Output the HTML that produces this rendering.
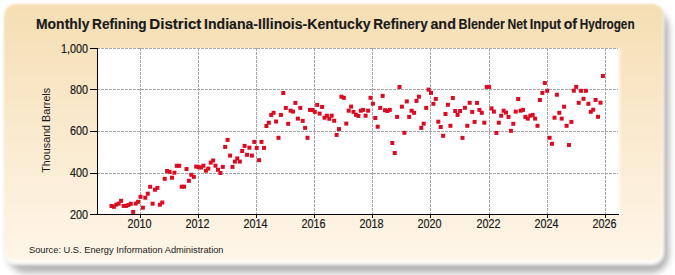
<!DOCTYPE html>
<html><head><meta charset="utf-8">
<style>
html,body{margin:0;padding:0;background:#fff;width:675px;height:275px;overflow:hidden}
#shadow{position:absolute;left:7.5px;top:10px;width:661px;height:263px;border-radius:18px;background:rgba(0,0,0,0.29);filter:blur(3px)}
#panel{position:absolute;left:3.5px;top:3.5px;width:660px;height:258.5px;border-radius:12px;
background:linear-gradient(to bottom,#F5DEB3 0%,#FAEACF 50%,#FFF6E9 100%);
box-shadow:0 2.5px 2px 0 rgba(255,255,255,0.9), inset -1px -2px 1px rgba(255,255,255,0.75);filter:blur(0.8px)}
svg{position:absolute;left:0;top:0}
text{font-family:"Liberation Sans",sans-serif;fill:#1a1a1a}
.ax text{stroke:#1a1a1a;stroke-width:0.2px}
</style></head>
<body>
<div id="shadow"></div><div id="panel"></div>
<svg width="675" height="275" viewBox="0 0 675 275">
<defs><linearGradient id="fade" x1="0" x2="1" y1="0" y2="0"><stop offset="0" stop-color="#fff" stop-opacity="1"/><stop offset="1" stop-color="#fff" stop-opacity="0"/></linearGradient></defs>
<rect x="97" y="48" width="520" height="166" fill="#fff"/>
<rect x="617" y="48" width="5" height="166" fill="url(#fade)"/>
<g stroke="#a6a6a6" stroke-width="1" stroke-dasharray="3,1" shape-rendering="crispEdges">
<line x1="97" y1="48.5" x2="618" y2="48.5"/>
<line x1="97" y1="89.5" x2="618" y2="89.5"/>
<line x1="97" y1="131.5" x2="618" y2="131.5"/>
<line x1="97" y1="173.5" x2="618" y2="173.5"/>
<line x1="140.5" y1="48" x2="140.5" y2="214"/>
<line x1="198.5" y1="48" x2="198.5" y2="214"/>
<line x1="256.5" y1="48" x2="256.5" y2="214"/>
<line x1="314.5" y1="48" x2="314.5" y2="214"/>
<line x1="372.5" y1="48" x2="372.5" y2="214"/>
<line x1="430.5" y1="48" x2="430.5" y2="214"/>
<line x1="489.5" y1="48" x2="489.5" y2="214"/>
<line x1="547.5" y1="48" x2="547.5" y2="214"/>
<line x1="605.5" y1="48" x2="605.5" y2="214"/>
</g>
<g stroke="#000" stroke-width="1" shape-rendering="crispEdges">
<line x1="97.5" y1="48" x2="97.5" y2="215"/>
<line x1="90" y1="214.5" x2="619" y2="214.5"/>
<line x1="90" y1="48.5" x2="97" y2="48.5"/>
<line x1="90" y1="89.5" x2="97" y2="89.5"/>
<line x1="90" y1="131.5" x2="97" y2="131.5"/>
<line x1="90" y1="173.5" x2="97" y2="173.5"/>
<line x1="140.5" y1="215" x2="140.5" y2="218"/>
<line x1="198.5" y1="215" x2="198.5" y2="218"/>
<line x1="256.5" y1="215" x2="256.5" y2="218"/>
<line x1="314.5" y1="215" x2="314.5" y2="218"/>
<line x1="372.5" y1="215" x2="372.5" y2="218"/>
<line x1="430.5" y1="215" x2="430.5" y2="218"/>
<line x1="489.5" y1="215" x2="489.5" y2="218"/>
<line x1="547.5" y1="215" x2="547.5" y2="218"/>
<line x1="605.5" y1="215" x2="605.5" y2="218"/>
</g>
<g class="ax" font-size="12" text-anchor="end">
<text transform="translate(88,52.5) scale(0.9,1)">1,000</text>
<text transform="translate(88,93.5) scale(0.9,1)">800</text>
<text transform="translate(88,134.8) scale(0.9,1)">600</text>
<text transform="translate(88,177) scale(0.9,1)">400</text>
<text transform="translate(88,218.5) scale(0.9,1)">200</text>
</g>
<g class="ax" font-size="12" text-anchor="middle">
<text transform="translate(139.5,227.5) scale(0.9,1)">2010</text>
<text transform="translate(197.5,227.5) scale(0.9,1)">2012</text>
<text transform="translate(255.5,227.5) scale(0.9,1)">2014</text>
<text transform="translate(313.5,227.5) scale(0.9,1)">2016</text>
<text transform="translate(371.5,227.5) scale(0.9,1)">2018</text>
<text transform="translate(429.5,227.5) scale(0.9,1)">2020</text>
<text transform="translate(488.5,227.5) scale(0.9,1)">2022</text>
<text transform="translate(546.5,227.5) scale(0.9,1)">2024</text>
<text transform="translate(604.5,227.5) scale(0.9,1)">2026</text>
</g>
<g font-size="14" font-weight="bold" fill="#111" stroke="#111" stroke-width="0.15">
<text x="36.0" y="29" textLength="53.4" lengthAdjust="spacingAndGlyphs">Monthly</text>
<text x="92.1" y="29" textLength="54.5" lengthAdjust="spacingAndGlyphs">Refining</text>
<text x="149.3" y="29" textLength="52.1" lengthAdjust="spacingAndGlyphs">District</text>
<text x="204.1" y="29" textLength="166.5" lengthAdjust="spacingAndGlyphs">Indiana-Illinois-Kentucky</text>
<text x="373.3" y="29" textLength="54.4" lengthAdjust="spacingAndGlyphs">Refinery</text>
<text x="430.4" y="29" textLength="25.5" lengthAdjust="spacingAndGlyphs">and</text>
<text x="458.6" y="29" textLength="46.1" lengthAdjust="spacingAndGlyphs">Blender</text>
<text x="507.4" y="29" textLength="19.6" lengthAdjust="spacingAndGlyphs">Net</text>
<text x="529.7" y="29" textLength="31.3" lengthAdjust="spacingAndGlyphs">Input</text>
<text x="563.7" y="29" textLength="13.3" lengthAdjust="spacingAndGlyphs">of</text>
<text x="579.7" y="29" textLength="54.9" lengthAdjust="spacingAndGlyphs">Hydrogen</text>
</g>
<text transform="translate(50,130.3) rotate(-90)" font-size="10.75" text-anchor="middle">Thousand Barrels</text>
<text transform="translate(29,253) scale(0.968,1)" font-size="9.6">Source: U.S. Energy Information Administration</text>
<g id="pts" fill="#da0c24">
<rect x="109.5" y="204.0" width="4" height="4"/>
<rect x="111.9" y="204.8" width="4" height="4"/>
<rect x="114.3" y="202.6" width="4" height="4"/>
<rect x="116.7" y="201.6" width="4" height="4"/>
<rect x="119.1" y="198.8" width="4" height="4"/>
<rect x="121.6" y="203.9" width="4" height="4"/>
<rect x="124.0" y="203.9" width="4" height="4"/>
<rect x="126.4" y="203.0" width="4" height="4"/>
<rect x="128.8" y="201.8" width="4" height="4"/>
<rect x="131.2" y="209.9" width="4" height="4"/>
<rect x="133.7" y="201.6" width="4" height="4"/>
<rect x="136.1" y="199.8" width="4" height="4"/>
<rect x="138.5" y="194.8" width="4" height="4"/>
<rect x="140.9" y="205.7" width="4" height="4"/>
<rect x="143.3" y="195.7" width="4" height="4"/>
<rect x="145.8" y="191.7" width="4" height="4"/>
<rect x="148.2" y="184.8" width="4" height="4"/>
<rect x="150.6" y="201.7" width="4" height="4"/>
<rect x="153.0" y="187.7" width="4" height="4"/>
<rect x="155.4" y="185.9" width="4" height="4"/>
<rect x="157.9" y="202.7" width="4" height="4"/>
<rect x="160.3" y="200.5" width="4" height="4"/>
<rect x="162.7" y="176.8" width="4" height="4"/>
<rect x="165.1" y="169.0" width="4" height="4"/>
<rect x="167.6" y="169.9" width="4" height="4"/>
<rect x="170.0" y="175.7" width="4" height="4"/>
<rect x="172.4" y="170.7" width="4" height="4"/>
<rect x="174.8" y="163.8" width="4" height="4"/>
<rect x="177.2" y="163.8" width="4" height="4"/>
<rect x="179.7" y="184.7" width="4" height="4"/>
<rect x="182.1" y="184.7" width="4" height="4"/>
<rect x="184.5" y="167.0" width="4" height="4"/>
<rect x="186.9" y="178.8" width="4" height="4"/>
<rect x="189.3" y="172.8" width="4" height="4"/>
<rect x="191.8" y="174.9" width="4" height="4"/>
<rect x="194.2" y="164.6" width="4" height="4"/>
<rect x="196.6" y="165.2" width="4" height="4"/>
<rect x="199.0" y="165.5" width="4" height="4"/>
<rect x="201.4" y="163.7" width="4" height="4"/>
<rect x="203.9" y="168.7" width="4" height="4"/>
<rect x="206.3" y="166.6" width="4" height="4"/>
<rect x="208.7" y="160.6" width="4" height="4"/>
<rect x="211.1" y="158.5" width="4" height="4"/>
<rect x="213.5" y="163.7" width="4" height="4"/>
<rect x="216.0" y="167.8" width="4" height="4"/>
<rect x="218.4" y="171.0" width="4" height="4"/>
<rect x="220.8" y="164.9" width="4" height="4"/>
<rect x="223.2" y="144.9" width="4" height="4"/>
<rect x="225.6" y="137.9" width="4" height="4"/>
<rect x="228.1" y="153.6" width="4" height="4"/>
<rect x="230.5" y="164.9" width="4" height="4"/>
<rect x="232.9" y="159.6" width="4" height="4"/>
<rect x="235.3" y="156.4" width="4" height="4"/>
<rect x="237.8" y="159.6" width="4" height="4"/>
<rect x="240.2" y="149.0" width="4" height="4"/>
<rect x="242.6" y="143.9" width="4" height="4"/>
<rect x="245.0" y="152.8" width="4" height="4"/>
<rect x="247.4" y="145.7" width="4" height="4"/>
<rect x="249.9" y="153.6" width="4" height="4"/>
<rect x="252.3" y="139.9" width="4" height="4"/>
<rect x="254.7" y="145.9" width="4" height="4"/>
<rect x="257.1" y="158.2" width="4" height="4"/>
<rect x="259.5" y="139.9" width="4" height="4"/>
<rect x="262.0" y="145.9" width="4" height="4"/>
<rect x="264.4" y="124.0" width="4" height="4"/>
<rect x="266.8" y="120.7" width="4" height="4"/>
<rect x="269.2" y="112.9" width="4" height="4"/>
<rect x="271.6" y="110.8" width="4" height="4"/>
<rect x="274.1" y="119.5" width="4" height="4"/>
<rect x="276.5" y="135.8" width="4" height="4"/>
<rect x="278.9" y="112.9" width="4" height="4"/>
<rect x="281.3" y="91.0" width="4" height="4"/>
<rect x="283.8" y="105.9" width="4" height="4"/>
<rect x="286.2" y="121.8" width="4" height="4"/>
<rect x="288.6" y="108.7" width="4" height="4"/>
<rect x="291.0" y="109.6" width="4" height="4"/>
<rect x="293.4" y="100.9" width="4" height="4"/>
<rect x="295.9" y="116.6" width="4" height="4"/>
<rect x="298.3" y="105.9" width="4" height="4"/>
<rect x="300.7" y="118.9" width="4" height="4"/>
<rect x="303.1" y="125.9" width="4" height="4"/>
<rect x="305.5" y="135.8" width="4" height="4"/>
<rect x="308.0" y="107.9" width="4" height="4"/>
<rect x="310.4" y="107.9" width="4" height="4"/>
<rect x="312.8" y="109.9" width="4" height="4"/>
<rect x="315.2" y="102.9" width="4" height="4"/>
<rect x="317.6" y="111.6" width="4" height="4"/>
<rect x="320.1" y="104.9" width="4" height="4"/>
<rect x="322.5" y="115.7" width="4" height="4"/>
<rect x="324.9" y="113.7" width="4" height="4"/>
<rect x="327.3" y="116.8" width="4" height="4"/>
<rect x="329.7" y="113.7" width="4" height="4"/>
<rect x="332.2" y="118.8" width="4" height="4"/>
<rect x="334.6" y="132.9" width="4" height="4"/>
<rect x="337.0" y="127.1" width="4" height="4"/>
<rect x="339.4" y="94.7" width="4" height="4"/>
<rect x="341.9" y="95.8" width="4" height="4"/>
<rect x="344.3" y="121.6" width="4" height="4"/>
<rect x="346.7" y="108.7" width="4" height="4"/>
<rect x="349.1" y="104.6" width="4" height="4"/>
<rect x="351.5" y="109.9" width="4" height="4"/>
<rect x="354.0" y="112.8" width="4" height="4"/>
<rect x="356.4" y="113.9" width="4" height="4"/>
<rect x="358.8" y="108.7" width="4" height="4"/>
<rect x="361.2" y="107.9" width="4" height="4"/>
<rect x="363.6" y="113.7" width="4" height="4"/>
<rect x="366.1" y="108.7" width="4" height="4"/>
<rect x="368.5" y="95.8" width="4" height="4"/>
<rect x="370.9" y="101.7" width="4" height="4"/>
<rect x="373.3" y="116.0" width="4" height="4"/>
<rect x="375.7" y="124.7" width="4" height="4"/>
<rect x="378.2" y="105.9" width="4" height="4"/>
<rect x="380.6" y="93.9" width="4" height="4"/>
<rect x="383.0" y="108.2" width="4" height="4"/>
<rect x="385.4" y="109.0" width="4" height="4"/>
<rect x="387.8" y="107.9" width="4" height="4"/>
<rect x="390.3" y="141.0" width="4" height="4"/>
<rect x="392.7" y="151.0" width="4" height="4"/>
<rect x="395.1" y="114.9" width="4" height="4"/>
<rect x="397.5" y="85.0" width="4" height="4"/>
<rect x="399.9" y="104.7" width="4" height="4"/>
<rect x="402.4" y="130.8" width="4" height="4"/>
<rect x="404.8" y="99.4" width="4" height="4"/>
<rect x="407.2" y="114.9" width="4" height="4"/>
<rect x="409.6" y="108.7" width="4" height="4"/>
<rect x="412.1" y="110.8" width="4" height="4"/>
<rect x="414.5" y="98.9" width="4" height="4"/>
<rect x="416.9" y="94.7" width="4" height="4"/>
<rect x="419.3" y="125.9" width="4" height="4"/>
<rect x="421.7" y="121.7" width="4" height="4"/>
<rect x="424.2" y="105.9" width="4" height="4"/>
<rect x="426.6" y="87.6" width="4" height="4"/>
<rect x="429.0" y="90.9" width="4" height="4"/>
<rect x="431.4" y="101.8" width="4" height="4"/>
<rect x="433.8" y="96.9" width="4" height="4"/>
<rect x="436.3" y="119.7" width="4" height="4"/>
<rect x="438.7" y="125.0" width="4" height="4"/>
<rect x="441.1" y="133.8" width="4" height="4"/>
<rect x="443.5" y="112.0" width="4" height="4"/>
<rect x="445.9" y="102.8" width="4" height="4"/>
<rect x="448.4" y="123.8" width="4" height="4"/>
<rect x="450.8" y="96.0" width="4" height="4"/>
<rect x="453.2" y="109.0" width="4" height="4"/>
<rect x="455.6" y="112.9" width="4" height="4"/>
<rect x="458.1" y="109.0" width="4" height="4"/>
<rect x="460.5" y="135.9" width="4" height="4"/>
<rect x="462.9" y="105.8" width="4" height="4"/>
<rect x="465.3" y="123.8" width="4" height="4"/>
<rect x="467.7" y="100.8" width="4" height="4"/>
<rect x="470.2" y="109.9" width="4" height="4"/>
<rect x="472.6" y="119.9" width="4" height="4"/>
<rect x="475.0" y="100.9" width="4" height="4"/>
<rect x="477.4" y="107.9" width="4" height="4"/>
<rect x="479.8" y="110.8" width="4" height="4"/>
<rect x="482.3" y="120.7" width="4" height="4"/>
<rect x="484.7" y="84.9" width="4" height="4"/>
<rect x="487.1" y="84.9" width="4" height="4"/>
<rect x="489.5" y="106.4" width="4" height="4"/>
<rect x="491.9" y="109.6" width="4" height="4"/>
<rect x="494.4" y="130.9" width="4" height="4"/>
<rect x="496.8" y="120.7" width="4" height="4"/>
<rect x="499.2" y="113.7" width="4" height="4"/>
<rect x="501.6" y="108.7" width="4" height="4"/>
<rect x="504.0" y="110.6" width="4" height="4"/>
<rect x="506.5" y="114.9" width="4" height="4"/>
<rect x="508.9" y="128.8" width="4" height="4"/>
<rect x="511.3" y="121.8" width="4" height="4"/>
<rect x="513.7" y="109.6" width="4" height="4"/>
<rect x="516.2" y="97.0" width="4" height="4"/>
<rect x="518.6" y="108.7" width="4" height="4"/>
<rect x="521.0" y="107.9" width="4" height="4"/>
<rect x="523.4" y="114.9" width="4" height="4"/>
<rect x="525.8" y="116.6" width="4" height="4"/>
<rect x="528.3" y="113.7" width="4" height="4"/>
<rect x="530.7" y="112.9" width="4" height="4"/>
<rect x="533.1" y="116.6" width="4" height="4"/>
<rect x="535.5" y="123.8" width="4" height="4"/>
<rect x="537.9" y="98.0" width="4" height="4"/>
<rect x="540.4" y="90.9" width="4" height="4"/>
<rect x="542.8" y="81.0" width="4" height="4"/>
<rect x="545.2" y="88.8" width="4" height="4"/>
<rect x="547.6" y="135.8" width="4" height="4"/>
<rect x="550.0" y="141.8" width="4" height="4"/>
<rect x="552.5" y="115.7" width="4" height="4"/>
<rect x="554.9" y="92.7" width="4" height="4"/>
<rect x="557.3" y="110.8" width="4" height="4"/>
<rect x="559.7" y="116.6" width="4" height="4"/>
<rect x="562.1" y="104.7" width="4" height="4"/>
<rect x="564.6" y="123.8" width="4" height="4"/>
<rect x="567.0" y="143.0" width="4" height="4"/>
<rect x="569.4" y="119.9" width="4" height="4"/>
<rect x="571.8" y="88.7" width="4" height="4"/>
<rect x="574.2" y="84.9" width="4" height="4"/>
<rect x="576.7" y="100.8" width="4" height="4"/>
<rect x="579.1" y="88.8" width="4" height="4"/>
<rect x="581.5" y="96.8" width="4" height="4"/>
<rect x="583.9" y="88.8" width="4" height="4"/>
<rect x="586.4" y="101.8" width="4" height="4"/>
<rect x="588.8" y="109.8" width="4" height="4"/>
<rect x="591.2" y="107.7" width="4" height="4"/>
<rect x="593.6" y="97.9" width="4" height="4"/>
<rect x="596.0" y="114.8" width="4" height="4"/>
<rect x="598.5" y="100.7" width="4" height="4"/>
<rect x="600.9" y="74.0" width="4" height="4"/>
</g>
</svg>
</body></html>
